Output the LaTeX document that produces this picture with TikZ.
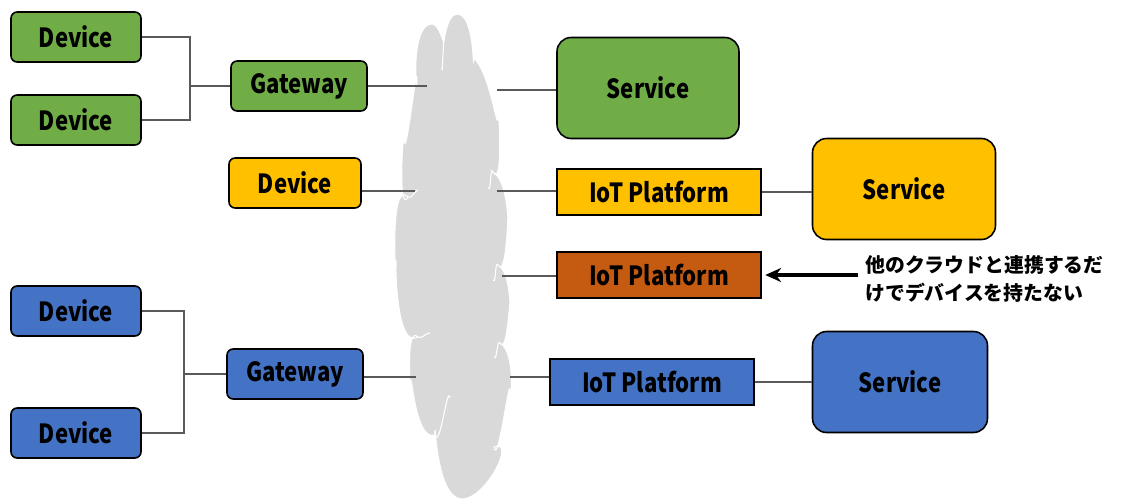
\documentclass[tikz,border=0pt]{standalone}
\usepackage{fontspec}
\setmainfont{Noto Sans CJK JP}
\newfontfamily\lblfont{Noto Sans CJK JP}[FakeStretch=0.84]
\usetikzlibrary{arrows.meta}

\definecolor{grn}{HTML}{70AD47}
\definecolor{ylw}{HTML}{FFC000}
\definecolor{org}{HTML}{C55A11}
\definecolor{blu}{HTML}{4472C4}
\definecolor{cld}{HTML}{D9D9D9}
\definecolor{lnk}{HTML}{595959}

\tikzset{
	box/.style={draw=black,line width=0.9pt,inner sep=0,font=\lblfont\bfseries\fontsize{15}{17}\selectfont},
	dev/.style={box,rounded corners=3.5pt,minimum width=2.6cm,minimum height=1cm},
	gw/.style={box,rounded corners=3.5pt,minimum width=2.72cm,minimum height=1cm},
	svc/.style={box,rounded corners=8pt,minimum height=2.02cm},
	plat/.style={box,minimum width=4.08cm,minimum height=0.92cm},
	link/.style={draw=lnk,line width=0.6pt},
	crease/.style={white,line width=0.6pt},
	pointer/.style={draw=black,line width=2pt,-{Stealth[length=9pt,width=8pt]},shorten >=2pt},
	note/.style={inner sep=0,align=left,font=\bfseries\fontsize{11.3}{15.5}\selectfont},
}

\begin{document}
\begin{tikzpicture}[x=0.02cm,y=-0.02cm]
	\useasboundingbox (0,0) rectangle (1131,500);
	% cloud
	\filldraw[fill=cld,draw=white,line width=0.6pt] (444,40)
		to[out=-95,in=180] (457,14) to[out=0,in=-95] (474,58)
		to[out=-45,in=-90] (498,115) to[out=90,in=-60] (493,172)
		to[out=-30,in=-90] (508,220) to[out=90,in=-60] (498,265)
		to[out=-30,in=-90] (510,305) to[out=90,in=-60] (500,343)
		to[out=-30,in=-90] (510,392) to[out=90,in=-80] (494,447)
		to[out=20,in=0] (462,499) to[out=180,in=90] (435,435)
		to[out=-160,in=90] (411,385) to[out=-90,in=135] (418,337)
		to[out=-150,in=90] (396,265) to[out=-90,in=135] (408,197)
		to[out=-120,in=90] (404,140) to[out=-85,in=90] (417,80)
		to[out=-90,in=180] (432,24) to[out=0,in=-90] cycle;
	\draw[crease] (444,40) to[out=90,in=-90] (442,68);
	\draw[crease] (493,172) to[out=120,in=-60] (488,188);
	\draw[crease] (498,265) to[out=120,in=-60] (493,280);
	\draw[crease] (500,343) to[out=120,in=-60] (494,357);
	\draw[crease] (418,337) to[out=-30,in=180] (430,333);
	\draw[crease] (435,435) to[out=-70,in=100] (450,398);
	\draw[crease] (408,197) to[out=-30,in=200] (418,190);
	% left side
	\node[dev,fill=grn] (1) at (76,37) {Device};
	\node[dev,fill=grn] (2) at (76,120) {Device};
	\node[gw,fill=grn] (3) at (299,86) {Gateway};
	\node[dev,fill=ylw,minimum width=2.64cm] (4) at (295,183) {Device};
	\node[dev,fill=blu] (5) at (76,311) {Device};
	\node[dev,fill=blu] (6) at (76,433) {Device};
	\node[gw,fill=blu] (7) at (295,374) {Gateway};
	% right side
	\node[svc,fill=grn,minimum width=3.64cm] (8) at (648,88) {Service};
	\node[plat,fill=ylw] (9) at (659,192) {IoT Platform};
	\node[plat,fill=org] (10) at (659,275) {IoT Platform};
	\node[plat,fill=blu] (11) at (652,382) {IoT Platform};
	\node[svc,fill=ylw,minimum width=3.66cm] (12) at (904,189) {Service};
	\node[svc,fill=blu,minimum width=3.5cm] (13) at (900,382) {Service};
	\node[note,anchor=west] (14) at (865,279) {他のクラウドと連携するだ\\けでデバイスを持たない};
	% ends inside the cloud
	\coordinate (c1) at (427,86);
	\coordinate (c2) at (415,191);
	\coordinate (c3) at (416,377);
	\coordinate (c4) at (497,90);
	\coordinate (c5) at (497,191);
	\coordinate (c6) at (502,276);
	\coordinate (c7) at (510,377);
	\coordinate (j1) at (190,86);
	\coordinate (j2) at (184,374);
	% links
	\draw[link] (1.east) -| (j1) |- (2.east);
	\draw[link] (j1) -- (3.west);
	\draw[link] (5.east) -| (j2) |- (6.east);
	\draw[link] (j2) -- (7.west);
	\draw[link] (3.east) -- (c1);
	\draw[link] (4.east |- c2) -- (c2);
	\draw[link] (7.east |- c3) -- (c3);
	\draw[link] (c4) -- (8.west |- c4);
	\draw[link] (c5) -- (9.west |- c5);
	\draw[link] (c6) -- (10.west |- c6);
	\draw[link] (c7) -- (11.west |- c7);
	\draw[link] (9.east) -- (12.west |- 9.east);
	\draw[link] (11.east) -- (13.west |- 11.east);
	\draw[pointer] ([xshift=-4pt]14.west |- 10.east) -- (10.east);
\end{tikzpicture}
\end{document}
